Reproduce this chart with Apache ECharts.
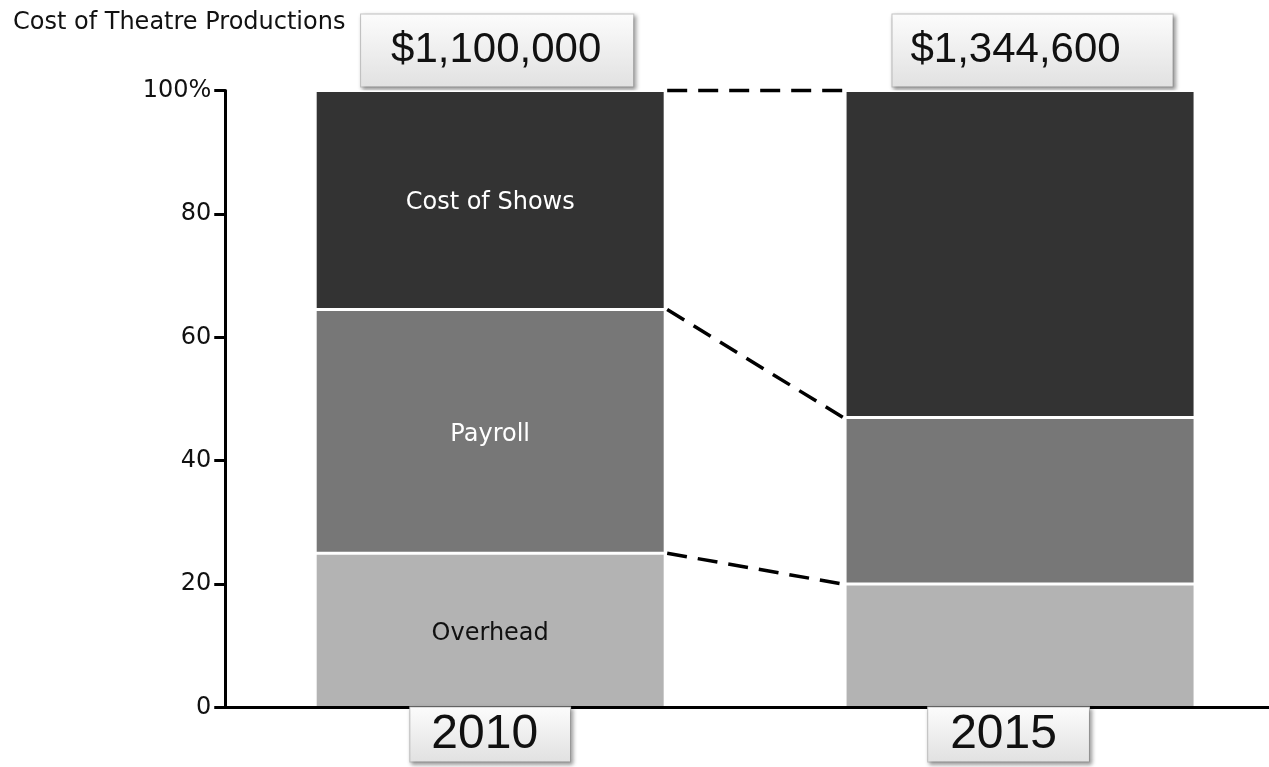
<!DOCTYPE html>
<html>
<head>
<meta charset="utf-8">
<script src="https://cdn.jsdelivr.net/npm/echarts@6/dist/echarts.min.js"></script>
<style>
html,body{margin:0;padding:0;background:#fff;overflow:hidden;width:1269px;height:767px;}
#chart{width:1285px;height:767px;}
</style>
</head>
<body>
<div id="chart"></div>
<script>
// ---- data ----
var years = ['2010', '2015'];
var totals = [1100000, 1344600];
var overhead = [25, 20];
var payroll = [39.5, 27];
var costOfShows = [35.5, 53];
var seriesNames = ['Overhead', 'Payroll', 'Cost of Shows'];
var yTicks = [0, 20, 40, 60, 80, 100];

var chart = echarts.init(document.getElementById('chart'));

function fmtMoney(v) {
  return '$' + String(v).replace(/\B(?=(\d{3})+(?!\d))/g, ',');
}

var layers = [overhead, payroll, costOfShows];
var colors = ['#b3b3b3', '#777777', '#333333'];
var labelColors = ['#111111', '#ffffff', '#ffffff'];

// cumulative boundaries for connector lines
var cum = [];
var run = [0, 0];
layers.forEach(function (arr) {
  run = [run[0] + arr[0], run[1] + arr[1]];
  cum.push([0, run[0], 1, run[1]]);
});

var BAR_W = 350;

// label box layout (style only): horizontal shift of the box and its paddings
var topBox = [{shift: 7, padL: 30, padR: 32}, {shift: 12.5, padL: 18, padR: 52}];
var bottomBox = [{shift: 0, padL: 21, padR: 32}, {shift: -11.5, padL: 22, padR: 32}];

function boxGradient() {
  return new echarts.graphic.LinearGradient(0, 0, 0, 1, [
    {offset: 0, color: '#fcfcfc'},
    {offset: 1, color: '#e1e1e1'}
  ]);
}

function boxStyle(fontSize, lineHeight, cfg) {
  return {
    fontFamily: 'Liberation Sans',
    fontSize: fontSize,
    lineHeight: lineHeight,
    height: lineHeight,
    color: '#111',
    padding: [0, cfg.padR, 0, cfg.padL],
    backgroundColor: boxGradient(),
    borderColor: '#c6c6c6',
    borderWidth: 1,
    shadowColor: 'rgba(0,0,0,0.35)',
    shadowBlur: 4,
    shadowOffsetX: 2,
    shadowOffsetY: 2
  };
}

function buildRich(prefix, cfgs, fontSize, lineHeight) {
  var rich = {};
  cfgs.forEach(function (cfg, i) {
    rich[prefix + i] = boxStyle(fontSize, lineHeight, cfg);
    rich['sp' + prefix + i] = {width: Math.abs(cfg.shift) * 2, fontSize: 10, lineHeight: lineHeight};
  });
  return rich;
}

function boxText(prefix, cfgs, idx, text) {
  var cfg = cfgs[idx];
  var tok = '{' + prefix + idx + '|' + text + '}';
  if (cfg.shift > 0) return '{sp' + prefix + idx + '| }' + tok;
  if (cfg.shift < 0) return tok + '{sp' + prefix + idx + '| }';
  return tok;
}

var barSeries = layers.map(function (arr, i) {
  return {
    name: seriesNames[i],
    type: 'bar',
    stack: 'total',
    barWidth: BAR_W,
    z: 2,
    itemStyle: {color: colors[i], borderColor: '#ffffff', borderWidth: 1.5},
    label: {
      show: false,
      position: 'inside',
      offset: [0, 3],
      formatter: seriesNames[i],
      color: labelColors[i],
      fontFamily: 'DejaVu Sans',
      fontSize: 24
    },
    data: arr.map(function (v, j) {
      return {value: v, label: {show: j === 0}};
    })
  };
});

var connector = {
  type: 'custom',
  xAxisIndex: 0,
  yAxisIndex: 0,
  z: 5,
  silent: true,
  clip: false,
  encode: {x: [0, 2], y: [1, 3]},
  data: cum,
  renderItem: function (params, api) {
    var p1 = api.coord([api.value(0), api.value(1)]);
    var p2 = api.coord([api.value(2), api.value(3)]);
    var half = BAR_W / 2;
    return {
      type: 'line',
      shape: {x1: p1[0] + half + 2, y1: p1[1], x2: p2[0] - half - 2, y2: p2[1]},
      style: {stroke: '#000', lineWidth: 3.5, lineDash: [20, 11], fill: null}
    };
  }
};

var option = {
  backgroundColor: '#ffffff',
  animation: false,
  title: {
    text: 'Cost of Theatre Productions',
    left: 8,
    top: 6,
    textStyle: {fontFamily: 'DejaVu Sans', fontSize: 24, fontWeight: 'normal', color: '#111'}
  },
  grid: {left: 225.25, top: 90.5, right: 0, bottom: 59.5, containLabel: false},
  xAxis: [
    {
      type: 'category',
      data: years,
      position: 'bottom',
      z: 10,
      axisLine: {show: true, onZero: false, lineStyle: {color: '#000', width: 3}},
      axisTick: {show: false},
      splitLine: {show: false},
      axisLabel: {
        margin: 0,
        formatter: function (v, idx) { return boxText('b', bottomBox, idx, v); },
        rich: buildRich('b', bottomBox, 48, 54)
      }
    },
    {
      type: 'category',
      data: years,
      position: 'top',
      axisLine: {show: false},
      axisTick: {show: false},
      splitLine: {show: false},
      axisLabel: {
        margin: 4,
        formatter: function (v, idx) { return boxText('t', topBox, idx, fmtMoney(totals[idx])); },
        rich: buildRich('t', topBox, 42, 72)
      }
    }
  ],
  yAxis: {
    type: 'value',
    min: yTicks[0],
    max: yTicks[yTicks.length - 1],
    interval: 20,
    z: 10,
    axisLine: {show: true, lineStyle: {color: '#000', width: 3}},
    axisTick: {show: true, length: 11, lineStyle: {color: '#000', width: 3}},
    splitLine: {show: false},
    axisLabel: {
      margin: 14,
      fontFamily: 'DejaVu Sans',
      fontSize: 24,
      color: '#111',
      formatter: function (v) { return v === 100 ? '100%' : String(v); }
    }
  },
  series: barSeries.concat([connector])
};

chart.setOption(option);
</script>
</body>
</html>
